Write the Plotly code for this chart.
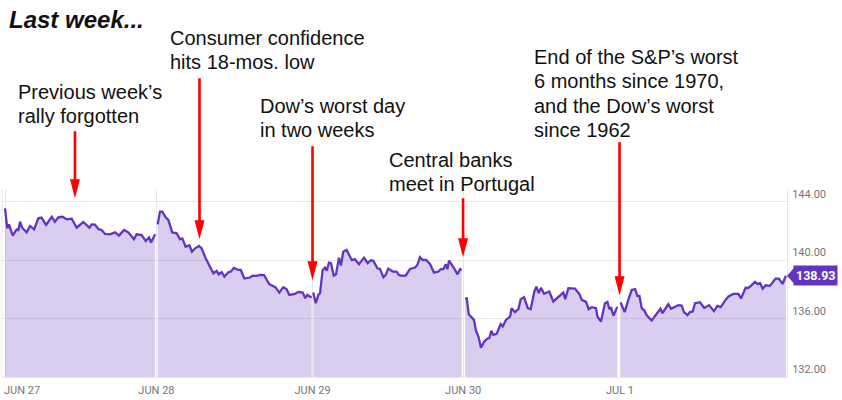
import plotly.graph_objects as go

# --- Data: x is trading days since the Jun 27 open, y is the price ---
jun27_x = [0, .015, .026, .05, .076, .087, .098, .111, .141, .163, .189, .217, .238, .267, .304, .325, .347, .375, .401, .434,
           .466, .509, .549, .564, .585, .607, .629, .65, .683, .715, .741, .774, .802, .839, .856, .889, .915, .937, .95, .976]
jun27_y = [143.54, 142.18, 142.45, 141.68, 142.11, 142.06, 142.63, 142.22, 141.90, 142.34, 142.11, 142.86, 142.91, 142.41, 142.97, 142.63, 142.93, 142.97, 142.79, 142.84,
           142.22, 142.61, 142.22, 142.45, 142.43, 142.13, 142.06, 141.79, 141.77, 141.90, 141.68, 142.06, 141.90, 141.43, 141.77, 141.72, 141.31, 141.56, 141.20, 141.77]

jun28_x = [.993, 1.008, 1.023, 1.045, 1.062, 1.088, 1.117, 1.138, 1.153, 1.175, 1.199, 1.216, 1.236, 1.262, 1.279, 1.305, 1.338, 1.355, 1.377, 1.39, 1.409, 1.427, 1.453,
           1.47, 1.489, 1.518, 1.533, 1.557, 1.593, 1.611, 1.637, 1.659, 1.685, 1.719, 1.758, 1.784, 1.81, 1.832, 1.849, 1.886, 1.908, 1.936, 1.953, 1.966, 1.984, 1.995]
jun28_y = [142.45, 143.32, 143.32, 142.93, 142.75, 141.90, 141.84, 141.43, 141.49, 140.92, 141.02, 140.58, 140.81, 140.97, 140.81, 140.13, 139.44, 139.10, 139.26, 139.03, 139.17, 138.87, 139.17,
           139.22, 139.47, 139.33, 139.33, 138.74, 138.81, 138.94, 138.92, 138.99, 138.97, 138.35, 138.15, 137.78, 138.15, 138.01, 137.62, 137.69, 137.83, 137.78, 137.39, 137.62, 137.49, 137.49]

jun29_x = [2.005, 2.021, 2.038, 2.049, 2.066, 2.081, 2.092, 2.107, 2.12, 2.138, 2.153, 2.172, 2.185, 2.2, 2.222, 2.255, 2.276, 2.302, 2.335, 2.359, 2.379, 2.396, 2.422, 2.439, 2.461,
           2.476, 2.493, 2.522, 2.547, 2.56, 2.574, 2.606, 2.634, 2.667, 2.682, 2.699, 2.717, 2.739, 2.764, 2.79, 2.819, 2.834, 2.851, 2.867, 2.877, 2.888, 2.917, 2.943, 2.96, 2.97]
jun29_y = [137.78, 137.05, 137.62, 137.74, 139.33, 139.49, 139.28, 139.83, 139.79, 138.94, 139.03, 140.17, 139.63, 140.58, 140.70, 140.01, 140.06, 139.72, 140.17, 139.79, 139.99, 139.95, 139.44, 139.40, 138.83,
           138.99, 139.42, 139.22, 139.22, 138.99, 138.94, 138.94, 139.40, 139.49, 139.67, 140.20, 140.01, 140.01, 139.74, 139.15, 139.22, 139.38, 139.38, 139.72, 139.38, 139.97, 139.51, 139.03, 139.38, 139.31]

jun30_x = [2.992, 3.003, 3.016, 3.035, 3.05, 3.063, 3.079, 3.096, 3.116, 3.137, 3.15, 3.163, 3.176, 3.198, 3.224, 3.237, 3.258, 3.285, 3.295, 3.317, 3.339, 3.354, 3.376, 3.4, 3.419, 3.443,
           3.456, 3.471, 3.486, 3.506, 3.54, 3.566, 3.584, 3.61, 3.631, 3.644, 3.664, 3.707, 3.736, 3.751, 3.779, 3.796, 3.816, 3.844, 3.853, 3.876, 3.902, 3.918, 3.931, 3.941, 3.957, 3.982]
jun30_y = [137.37, 137.39, 136.30, 136.09, 135.91, 135.18, 134.77, 134.00, 134.41, 134.62, 134.66, 135.16, 134.89, 134.96, 135.62, 135.46, 135.91, 136.14, 136.71, 136.44, 136.64, 137.33, 137.46, 136.71, 136.64, 137.85,
           138.19, 137.74, 138.10, 137.69, 137.85, 137.17, 137.33, 137.62, 137.78, 137.33, 138.08, 138.05, 137.67, 137.28, 137.14, 136.64, 136.78, 136.71, 136.14, 135.80, 137.05, 137.14, 136.64, 136.78, 136.19, 136.80]

jul1_x = [4.004, 4.03, 4.054, 4.076, 4.098, 4.113, 4.126, 4.141, 4.158, 4.174, 4.206, 4.239, 4.263, 4.276, 4.314, 4.332, 4.379, 4.401, 4.416, 4.438, 4.455, 4.473, 4.488, 4.52,
          4.548, 4.579, 4.611, 4.633, 4.655, 4.683, 4.705, 4.737, 4.77, 4.787, 4.817, 4.83, 4.846, 4.878, 4.893, 4.911, 4.928, 4.947, 4.975, 5.012, 5.033, 5.057, 5.079]
jul1_y = [137.10, 136.44, 137.28, 137.96, 138.01, 137.55, 137.55, 136.71, 136.55, 136.23, 135.87, 136.32, 136.67, 136.37, 136.98, 136.67, 136.92, 136.89, 136.44, 136.23, 136.44, 136.48, 137.05, 137.12,
          136.73, 136.92, 136.51, 136.87, 136.78, 137.23, 137.51, 137.69, 137.69, 137.37, 138.12, 138.08, 138.19, 138.51, 138.37, 138.42, 138.05, 138.28, 138.24, 138.74, 138.74, 138.37, 138.93]

day_ticks = [0, 0.985, 2, 2.98, 4]
day_labels = ["", "JUN 28", "JUN 29", "JUN 30", "JUL 1"]
price_ticks = [132, 136, 140, 144]
last_price = 138.93

# arrows: where the tip points, and shaft length in pixels
arrow_x = [.455, 1.265, 2.0, 2.979, 3.997]
arrow_tip = [144.24, 141.43, 138.63, 140.2, 137.6]
arrow_len = [67, 161, 134, 59, 153]

PURPLE = "#6334C0"
FILL = "rgba(106,59,196,0.25)"
GRID = "#e8e8e8"
GREY = "#757575"
RED = "#ff0000"

Y_MIN, Y_MAX = 132, 144.87

# plot area in page pixels
LEFT, RIGHT, TOP, BOTTOM = 2, 787, 189, 377


def page_x(px):
    return (px - LEFT) / (RIGHT - LEFT)


def page_y(px):
    return (BOTTOM - px) / (BOTTOM - TOP)


fig = go.Figure()

for xs, ys in [(jun27_x, jun27_y), (jun28_x, jun28_y), (jun29_x, jun29_y), (jun30_x, jun30_y), (jul1_x, jul1_y)]:
    fig.add_trace(go.Scatter(x=xs, y=ys, mode="lines", fill="tozeroy", fillcolor=FILL,
                             line=dict(color=PURPLE, width=2.3), hoverinfo="skip", showlegend=False))

# --- Red arrows (paper y so they can run above the plot area) ---
for ax, tip, length in zip(arrow_x, arrow_tip, arrow_len):
    fig.add_shape(type="path", xref="x", yref="paper", xsizemode="pixel", ysizemode="pixel",
                  xanchor=ax, yanchor=(tip - Y_MIN) / (Y_MAX - Y_MIN),
                  path=f"M 0 0 L -5 19 L -1.3 19 L -1.3 {length} L 1.3 {length} L 1.3 19 L 5 19 Z",
                  fillcolor=RED, line=dict(width=0), layer="above")

# left edge line and the price tag pointer
fig.add_shape(type="line", xref="paper", yref="paper", x0=0, x1=0, y0=0, y1=1,
              line=dict(color=GRID, width=1), layer="below")
fig.add_shape(type="path", xref="paper", yref="paper", xsizemode="pixel", ysizemode="pixel",
              xanchor=1, yanchor=(last_price - Y_MIN) / (Y_MAX - Y_MIN), path="M 0 0 L 8 9 L 8 -9 Z",
              fillcolor=PURPLE, line=dict(width=0), layer="above")


def add_note(lines, x, first_y, size=20, step=24.4):
    # one annotation per line, plotly has no line spacing setting
    for i, line in enumerate(lines):
        fig.add_annotation(text=line, xref="paper", yref="paper", x=page_x(x), y=page_y(first_y + i * step),
                           xanchor="left", yanchor="middle", align="left", showarrow=False, xshift=-2,
                           font=dict(family="Liberation Sans", size=size, color="#111111"))


add_note(["<b><i>Last week...</i></b>"], 9, 20, size=24)
add_note(["Consumer confidence", "hits 18-mos. low"], 170, 38)
add_note(["Previous week’s", "rally forgotten"], 18, 92)
add_note(["Dow’s worst day", "in two weeks"], 260, 106)
add_note(["Central banks", "meet in Portugal"], 389, 160)
add_note(["End of the S&P’s worst", "6 months since 1970,", "and the Dow’s worst", "since 1962"], 534, 57)

# first day label sits right of its gridline
fig.add_annotation(text="JUN 27", xref="paper", yref="paper", x=0, y=page_y(390),
                   xanchor="left", yanchor="middle", showarrow=False,
                   font=dict(family="Roboto", size=11, color=GREY))

# price tag
fig.add_annotation(text=f"<b>{last_price:.2f}</b>", xref="paper", yref="y", x=1, y=last_price,
                   xanchor="left", yanchor="middle", xshift=6, showarrow=False, bgcolor=PURPLE,
                   borderpad=2, font=dict(family="Roboto", size=12.5, color="white"))

fig.update_layout(
    width=842, height=400, autosize=False,
    margin=dict(l=LEFT, r=842 - RIGHT, t=TOP, b=400 - BOTTOM, pad=0),
    paper_bgcolor="white", plot_bgcolor="white", showlegend=False,
    xaxis=dict(range=[-0.0195, 5.086], tickvals=day_ticks, ticktext=day_labels,
               showgrid=True, gridcolor=GRID, gridwidth=1, zeroline=False,
               showline=True, linecolor=GRID, linewidth=1, ticks="", ticklabelstandoff=3,
               tickfont=dict(family="Roboto", size=11, color=GREY)),
    yaxis=dict(range=[Y_MIN, Y_MAX], side="right", tickvals=price_ticks, tickformat=".2f",
               showgrid=True, gridcolor=GRID, gridwidth=1, zeroline=False,
               showline=True, linecolor=GRID, linewidth=1, ticks="", ticklabelstandoff=2,
               ticklabelposition="outside top",
               tickfont=dict(family="Roboto", size=11, color=GREY)),
)

fig.write_html("out.html", config=dict(displayModeBar=False),
               post_script="document.body.style.margin='0';")
